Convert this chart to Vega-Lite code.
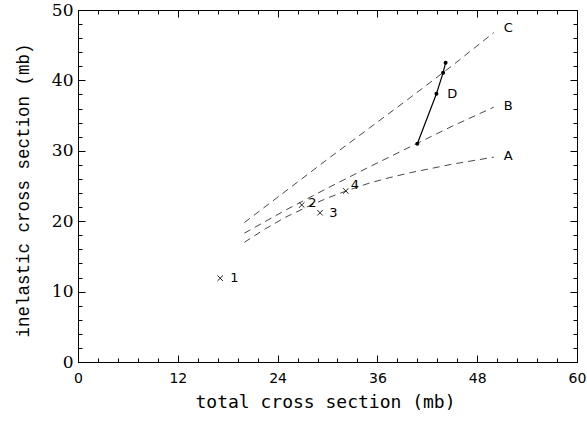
{
  "$schema": "https://vega.github.io/schema/vega-lite/v6.json",
  "width": 499,
  "height": 352,
  "autosize": {"type": "none"},
  "padding": {"left": 78, "top": 10, "right": 10, "bottom": 63},
  "background": "white",
  "config": {
    "view": {"stroke": "#000", "strokeWidth": 1},
    "axis": {"grid": false, "domain": false, "tickColor": "#000", "labelColor": "#000", "titleColor": "#000", "tickWidth": 1}
  },
  "datasets": {
    "curves": [
      {"series": "A", "x": 20, "y": 17.0}, {"series": "A", "x": 22.5, "y": 18.9}, {"series": "A", "x": 25, "y": 20.6},
      {"series": "A", "x": 27.5, "y": 22.0}, {"series": "A", "x": 30, "y": 23.3}, {"series": "A", "x": 32.5, "y": 24.4},
      {"series": "A", "x": 35, "y": 25.4}, {"series": "A", "x": 37.5, "y": 26.2}, {"series": "A", "x": 40, "y": 26.9},
      {"series": "A", "x": 42.5, "y": 27.5}, {"series": "A", "x": 45, "y": 28.1}, {"series": "A", "x": 47.5, "y": 28.6},
      {"series": "A", "x": 50, "y": 29.1},
      {"series": "B", "x": 20, "y": 18.3}, {"series": "B", "x": 25, "y": 21.6}, {"series": "B", "x": 30, "y": 24.7},
      {"series": "B", "x": 35, "y": 27.7}, {"series": "B", "x": 40, "y": 30.6}, {"series": "B", "x": 45, "y": 33.5},
      {"series": "B", "x": 50, "y": 36.2},
      {"series": "C", "x": 20, "y": 19.8}, {"series": "C", "x": 25, "y": 24.3}, {"series": "C", "x": 30, "y": 28.8},
      {"series": "C", "x": 35, "y": 33.2}, {"series": "C", "x": 40, "y": 37.6}, {"series": "C", "x": 45, "y": 42.1},
      {"series": "C", "x": 50, "y": 46.8}
    ],
    "curveLabels": [
      {"label": "A", "x": 51.2, "y": 29.3},
      {"label": "B", "x": 51.2, "y": 36.4},
      {"label": "C", "x": 51.2, "y": 47.4},
      {"label": "D", "x": 44.4, "y": 38.1}
    ],
    "points": [
      {"id": "1", "x": 17.1, "y": 11.9},
      {"id": "2", "x": 26.9, "y": 22.3},
      {"id": "3", "x": 29.1, "y": 21.2},
      {"id": "4", "x": 32.2, "y": 24.3}
    ],
    "pointLabels": [
      {"id": "1", "x": 18.3, "y": 11.9},
      {"id": "2", "x": 27.7, "y": 22.6},
      {"id": "3", "x": 30.2, "y": 21.2},
      {"id": "4", "x": 32.8, "y": 25.1}
    ],
    "dline": [
      {"x": 40.8, "y": 31.0},
      {"x": 43.1, "y": 38.1},
      {"x": 43.9, "y": 41.1},
      {"x": 44.2, "y": 42.5}
    ]
  },
  "layer": [
    {
      "data": {"name": "curves"},
      "mark": {"type": "line", "strokeDash": [7, 5], "color": "#333", "strokeWidth": 0.9},
      "encoding": {
        "x": {"field": "x", "type": "quantitative", "scale": {"domain": [0, 60], "nice": false, "zero": false},
          "axis": {"orient": "bottom", "values": [0, 12, 24, 36, 48, 60], "ticks": false, "labelPadding": 9,
            "labelFont": "DejaVu Sans", "labelFontSize": 14, "labelFlush": false,
            "title": "total cross section (mb)", "titleFont": "DejaVu Sans Mono", "titleFontSize": 18, "titleFontWeight": "normal",
            "titleX": 247, "titleY": 45, "titleBaseline": "alphabetic", "titleAnchor": "middle", "titleAlign": "center"}},
        "y": {"field": "y", "type": "quantitative", "scale": {"domain": [0, 50], "nice": false, "zero": false},
          "axis": {"orient": "left", "values": [0, 10, 20, 30, 40, 50], "ticks": false, "labelPadding": 5,
            "labelFont": "DejaVu Serif", "labelFontSize": 17, "labelFlush": false,
            "title": "inelastic cross section (mb)", "titleFont": "Liberation Mono", "titleFontSize": 17.5, "titleFontWeight": "normal",
            "titleX": -55, "titleY": 180, "titleAngle": -90, "titleBaseline": "middle", "titleAlign": "center"}},
        "detail": {"field": "series", "type": "nominal"}
      }
    },
    {
      "data": {"name": "curveLabels"},
      "mark": {"type": "text", "align": "left", "baseline": "middle", "font": "DejaVu Sans", "fontSize": 13, "color": "#000"},
      "encoding": {
        "x": {"field": "x", "type": "quantitative", "scale": {"domain": [0, 60], "nice": false, "zero": false},
          "axis": {"orient": "bottom", "values": [0, 12, 24, 36, 48, 60], "tickSize": -7, "labels": false, "title": null}},
        "y": {"field": "y", "type": "quantitative", "scale": {"domain": [0, 50], "nice": false, "zero": false},
          "axis": {"orient": "left", "values": [0, 10, 20, 30, 40, 50], "tickSize": -7, "labels": false, "title": null}},
        "text": {"field": "label", "type": "nominal"}
      }
    },
    {
      "data": {"name": "points"},
      "mark": {"type": "point", "shape": "M-1,-1L1,1M-1,1L1,-1", "filled": false, "size": 30, "stroke": "#222", "strokeWidth": 1, "opacity": 1},
      "encoding": {
        "x": {"field": "x", "type": "quantitative", "scale": {"domain": [0, 60], "nice": false, "zero": false},
          "axis": {"orient": "bottom", "values": [2.4, 4.8, 7.2, 9.6, 14.4, 16.8, 19.2, 21.6, 26.4, 28.8, 31.2, 33.6, 38.4, 40.8, 43.2, 45.6, 50.4, 52.8, 55.2, 57.6], "tickSize": -4, "labels": false, "title": null}},
        "y": {"field": "y", "type": "quantitative", "scale": {"domain": [0, 50], "nice": false, "zero": false},
          "axis": {"orient": "left", "values": [2, 4, 6, 8, 12, 14, 16, 18, 22, 24, 26, 28, 32, 34, 36, 38, 42, 44, 46, 48], "tickSize": -4, "labels": false, "title": null}}
      }
    },
    {
      "data": {"name": "pointLabels"},
      "mark": {"type": "text", "align": "left", "baseline": "middle", "font": "DejaVu Sans", "fontSize": 13, "color": "#000"},
      "encoding": {
        "x": {"field": "x", "type": "quantitative", "scale": {"domain": [0, 60], "nice": false, "zero": false},
          "axis": {"orient": "top", "values": [0, 12, 24, 36, 48, 60], "tickSize": -7, "labels": false, "title": null}},
        "y": {"field": "y", "type": "quantitative", "scale": {"domain": [0, 50], "nice": false, "zero": false},
          "axis": {"orient": "right", "values": [0, 10, 20, 30, 40, 50], "tickSize": -7, "labels": false, "title": null}},
        "text": {"field": "id", "type": "nominal"}
      }
    },
    {
      "data": {"name": "dline"},
      "mark": {"type": "line", "color": "#000", "strokeWidth": 1.2},
      "encoding": {
        "x": {"field": "x", "type": "quantitative", "scale": {"domain": [0, 60], "nice": false, "zero": false},
          "axis": {"orient": "top", "values": [2.4, 4.8, 7.2, 9.6, 14.4, 16.8, 19.2, 21.6, 26.4, 28.8, 31.2, 33.6, 38.4, 40.8, 43.2, 45.6, 50.4, 52.8, 55.2, 57.6], "tickSize": -4, "labels": false, "title": null}},
        "y": {"field": "y", "type": "quantitative", "scale": {"domain": [0, 50], "nice": false, "zero": false},
          "axis": {"orient": "right", "values": [2, 4, 6, 8, 12, 14, 16, 18, 22, 24, 26, 28, 32, 34, 36, 38, 42, 44, 46, 48], "tickSize": -4, "labels": false, "title": null}}
      }
    },
    {
      "data": {"name": "dline"},
      "mark": {"type": "point", "shape": "circle", "filled": true, "size": 16, "color": "#000", "opacity": 1},
      "encoding": {
        "x": {"field": "x", "type": "quantitative", "scale": {"domain": [0, 60], "nice": false, "zero": false}, "axis": null},
        "y": {"field": "y", "type": "quantitative", "scale": {"domain": [0, 50], "nice": false, "zero": false}, "axis": null}
      }
    }
  ],
  "resolve": {"axis": {"x": "independent", "y": "independent"}}
}
